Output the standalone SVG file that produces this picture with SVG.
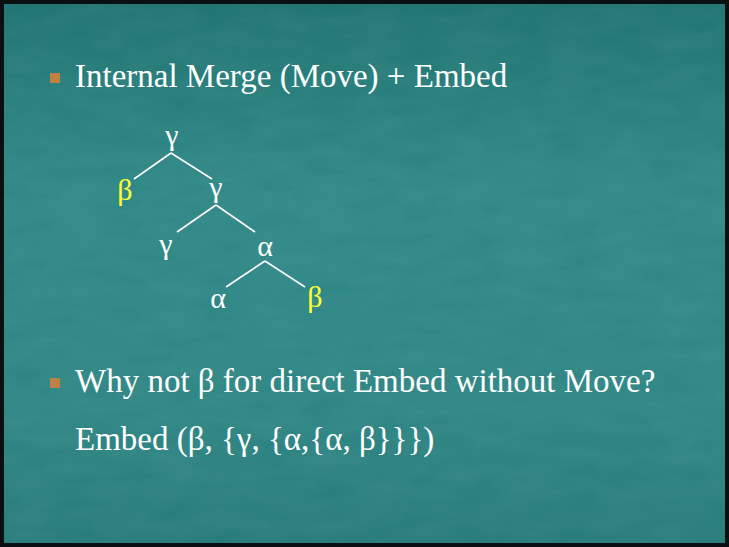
<svg xmlns="http://www.w3.org/2000/svg" width="729" height="547" viewBox="0 0 729 547">
  <defs>
    <linearGradient id="bg" x1="0" y1="0" x2="0" y2="1">
      <stop offset="0" stop-color="#1d7270"/>
      <stop offset="0.35" stop-color="#2d8785"/>
      <stop offset="0.75" stop-color="#2c8583"/>
      <stop offset="1" stop-color="#257a78"/>
    </linearGradient>
    <filter id="tex" x="0" y="0" width="100%" height="100%">
      <feTurbulence type="fractalNoise" baseFrequency="0.02 0.06" numOctaves="3" seed="4"/>
      <feColorMatrix type="matrix" values="0 0 0 0 1  0 0 0 0 1  0 0 0 0 1  0 0 0 0.12 0"/>
    </filter>
    <style>
      .t { font-family: "Liberation Serif", "Times New Roman", serif; fill: #ffffff; }
      .big { font-size: 33px; }
      .node { font-size: 30px; text-anchor: middle; }
      .y { fill: #ffff33; }
      .edge { stroke: #ffffff; stroke-width: 1.6; fill: none; }
      .bullet { fill: #c07f45; }
    </style>
  </defs>
  <rect x="0" y="0" width="729" height="547" fill="url(#bg)"/>
  <rect x="4" y="4" width="721" height="539" filter="url(#tex)" opacity="0.6"/>
  <rect x="2" y="2" width="725" height="543" fill="none" stroke="#0a0f0f" stroke-width="4"/>

  <g id="bullet1">
    <rect class="bullet" x="50" y="73" width="10" height="10"/>
    <text class="t big" x="75" y="87">Internal Merge (Move) + Embed</text>
  </g>

  <g id="connectors">
    <line class="edge" x1="171" y1="153" x2="134" y2="179"/>
    <line class="edge" x1="171" y1="153" x2="212" y2="179"/>
    <line class="edge" x1="216" y1="205" x2="177" y2="232"/>
    <line class="edge" x1="216" y1="205" x2="255" y2="232"/>
    <line class="edge" x1="265" y1="261" x2="226" y2="287"/>
    <line class="edge" x1="265" y1="261" x2="305" y2="287"/>
  </g>

  <g id="n-root"><text class="t node" x="172" y="145">γ</text></g>
  <g id="n-beta1"><text class="t node y" x="125" y="200">β</text></g>
  <g id="n-gamma2"><text class="t node" x="216" y="197">γ</text></g>
  <g id="n-gamma3"><text class="t node" x="166" y="254">γ</text></g>
  <g id="n-alpha1"><text class="t node" x="265" y="256">α</text></g>
  <g id="n-alpha2"><text class="t node" x="218" y="308">α</text></g>
  <g id="n-beta2"><text class="t node y" x="315" y="307">β</text></g>

  <g id="bullet2">
    <rect class="bullet" x="50" y="378" width="10" height="10"/>
    <text class="t big" x="75" y="392">Why not β for direct Embed without Move?</text>
  </g>
  <g id="line3">
    <text class="t big" x="75" y="450">Embed (β, {γ, {α,{α, β}}})</text>
  </g>
</svg>
